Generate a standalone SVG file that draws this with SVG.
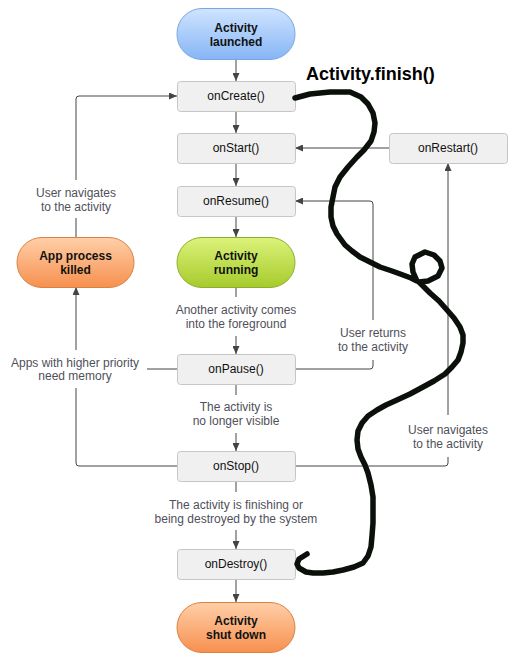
<svg xmlns="http://www.w3.org/2000/svg" width="513" height="663" viewBox="0 0 513 663">
<style>
.box{fill:#f0f0f0;stroke:#c6c6c6;stroke-width:1}
.bt{font-family:"Liberation Sans",Arial,sans-serif;font-size:12px;fill:#111;text-anchor:middle}
.pt{font-family:"Liberation Sans",Arial,sans-serif;font-size:12px;font-weight:bold;fill:#111;text-anchor:middle}
.lb{font-family:"Liberation Sans",Arial,sans-serif;font-size:12px;fill:#50505a;text-anchor:middle}
.c{fill:none;stroke:#444;stroke-width:1}
.ca{fill:none;stroke:#444;stroke-width:1;marker-end:url(#ah)}
</style>
<defs>
<marker id="ah" viewBox="0 0 8 7" refX="8" refY="3.5" markerUnits="userSpaceOnUse" markerWidth="8" markerHeight="7" orient="auto">
<path d="M0,0 L8,3.5 L0,7 z" fill="#444"/>
</marker>
<linearGradient id="gb" x1="0" y1="0" x2="0" y2="1"><stop offset="0" stop-color="#cfe4ff"/><stop offset="1" stop-color="#86b5f5"/></linearGradient>
<linearGradient id="gg" x1="0" y1="0" x2="0" y2="1"><stop offset="0" stop-color="#dcf27a"/><stop offset="1" stop-color="#a6cb2c"/></linearGradient>
<linearGradient id="go" x1="0" y1="0" x2="0" y2="1"><stop offset="0" stop-color="#ffcfa8"/><stop offset="1" stop-color="#f7904f"/></linearGradient>
</defs>
<rect width="513" height="663" fill="#fff"/>

<g id="connectors">
<path class="ca" d="M236,59 V81"/>
<path class="ca" d="M236,111 V133"/>
<path class="ca" d="M236,163 V186"/>
<path class="ca" d="M236,216 V237"/>
<path class="c" d="M236,287 V297"/>
<path class="ca" d="M236,336 V354"/>
<path class="c" d="M236,384 V395"/>
<path class="ca" d="M236,433 V451"/>
<path class="c" d="M236,482 V492"/>
<path class="ca" d="M236,530 V549"/>
<path class="ca" d="M236,579 V602"/>
<path class="ca" d="M389,148 H295"/>
<path class="ca" d="M448,415 V163"/>
<path class="c" d="M295,466 H445 Q448,466 448,463 V457"/>
<path class="ca" d="M373,320 V204 Q373,201 370,201 H295"/>
<path class="c" d="M295,369 H370 Q373,369 373,366 V360"/>
<path class="ca" d="M76,180 V99 Q76,96 79,96 H177"/>
<path class="c" d="M76,237 V218"/>
<path class="c" d="M177,466 H79 Q76,466 76,463 V388"/>
<path class="ca" d="M76,350 V287"/>
<path class="c" d="M147,369 H177"/>
</g>

<g id="labels">
<text class="lb" x="76" y="197">User navigates</text>
<text class="lb" x="76" y="211">to the activity</text>
<text class="lb" x="236" y="314">Another activity comes</text>
<text class="lb" x="236" y="328">into the foreground</text>
<text class="lb" x="373" y="337">User returns</text>
<text class="lb" x="373" y="351">to the activity</text>
<text class="lb" x="75" y="367">Apps with higher priority</text>
<text class="lb" x="75" y="380">need memory</text>
<text class="lb" x="236" y="411">The activity is</text>
<text class="lb" x="236" y="425">no longer visible</text>
<text class="lb" x="448" y="434">User navigates</text>
<text class="lb" x="448" y="448">to the activity</text>
<text class="lb" x="236" y="509">The activity is finishing or</text>
<text class="lb" x="236" y="523">being destroyed by the system</text>
</g>

<g id="launched"><rect x="177" y="8.5" width="118" height="51" rx="25" fill="url(#gb)" stroke="#7aa6e0"/><text class="pt" x="236" y="32">Activity</text><text class="pt" x="236" y="46">launched</text></g>
<g id="onCreate"><rect class="box" x="177.5" y="81.5" width="118" height="30" rx="3"/><text class="bt" x="236" y="100">onCreate()</text></g>
<g id="onStart"><rect class="box" x="177.5" y="133.5" width="118" height="30" rx="3"/><text class="bt" x="236" y="152">onStart()</text></g>
<g id="onRestart"><rect class="box" x="389.5" y="133.5" width="118" height="30" rx="3"/><text class="bt" x="448" y="152">onRestart()</text></g>
<g id="onResume"><rect class="box" x="177.5" y="186.5" width="118" height="30" rx="3"/><text class="bt" x="236" y="205">onResume()</text></g>
<g id="running"><rect x="177" y="237.5" width="118" height="50" rx="25" fill="url(#gg)" stroke="#8eae2a"/><text class="pt" x="236" y="260">Activity</text><text class="pt" x="236" y="274">running</text></g>
<g id="killed"><rect x="17" y="237.5" width="117" height="50" rx="25" fill="url(#go)" stroke="#d88242"/><text class="pt" x="75.5" y="260">App process</text><text class="pt" x="75.5" y="274">killed</text></g>
<g id="onPause"><rect class="box" x="177.5" y="354.5" width="118" height="30" rx="3"/><text class="bt" x="236" y="373">onPause()</text></g>
<g id="onStop"><rect class="box" x="177.5" y="451.5" width="118" height="30" rx="3"/><text class="bt" x="236" y="470">onStop()</text></g>
<g id="onDestroy"><rect class="box" x="177.5" y="549.5" width="118" height="30" rx="3"/><text class="bt" x="236" y="568">onDestroy()</text></g>
<g id="shutdown"><rect x="177" y="602.5" width="118" height="50" rx="25" fill="url(#go)" stroke="#d88242"/><text class="pt" x="236" y="625">Activity</text><text class="pt" x="236" y="639">shut down</text></g>

<g id="finish">
<text x="306" y="80" font-family="'Liberation Sans',Arial,sans-serif" font-size="18" font-weight="bold" fill="#000">Activity.finish()</text>
<polyline fill="none" stroke="#0b100b" stroke-width="5.5" stroke-linejoin="round" stroke-linecap="round" points="295,98 310,94 330,92 350,92 361,97 368,104 373,113 375,123 374,132 371,141 364,150 357,157 348,167 340,177 335,187 333,197 331,207 331,217 333,226 337,234 345,245 352,251 360,257 370,262 380,267 392,271 403,275 411,278 417,281 413,272 412,264 415,257 425,252 434,255 440,261 442,268 438,276 428,281 419,282 424,287 430,293 439,301 447,310 454,318 460,327 463,335 463,343 461,352 458,360 452,367 445,374 434,381 423,387 410,394 397,400 386,405 377,410 368,416 362,423 358,431 357,440 358,449 361,457 365,465 368,473 371,485 373,497 373,510 373,523 372,536 371,547 368,556 363,563 354,567 343,570 333,572 323,573 313,573 306,572 299,568 297,564 299,559 307,554"/>
</g>
</svg>
